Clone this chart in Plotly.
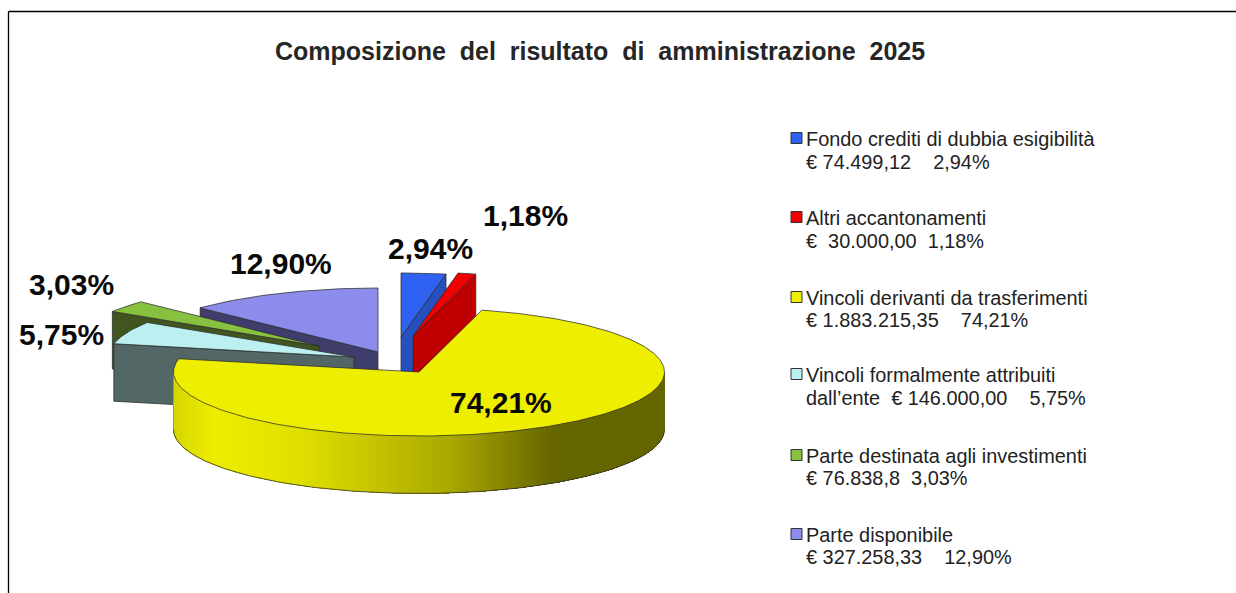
import numpy as np
import plotly.graph_objects as go

# ---- data ----
categories = ["Fondo crediti di dubbia esigibilità", "Altri accantonamenti",
              "Vincoli derivanti da trasferimenti", "Vincoli formalmente attribuiti",
              "Parte destinata agli investimenti", "Parte disponibile"]
values = [74499.12, 30000.00, 1883215.35, 146000.00, 76838.8, 327258.33]
percent_labels = ["2,94%", "1,18%", "74,21%", "5,75%", "3,03%", "12,90%"]
second_lines = ["€ 74.499,12\u00a0\u00a0\u00a0\u00a02,94%", "€\u00a0\u00a030.000,00\u00a0\u00a01,18%",
                "€ 1.883.215,35\u00a0\u00a0\u00a0\u00a074,21%", "dall’ente\u00a0\u00a0€ 146.000,00\u00a0\u00a0\u00a0\u00a05,75%",
                "€ 76.838,8\u00a0\u00a03,03%", "€ 327.258,33\u00a0\u00a0\u00a0\u00a012,90%"]
title_text = "Composizione del risultato di amministrazione 2025"

# ---- styling / layout ----
top_colors = ["#2f62f0", "#f00000", "#eeee00", "#bcefef", "#88c040", "#8c8ced"]
side_colors = ["#2450c0", "#c00000", "#eeee00", "#526666", "#415521", "#3f3d6b"]
# exploded apex of each slice on the canvas
apex_x = [401, 413, 419, 354, 319, 378]
apex_y = [337, 336, 372, 357, 346, 352]
RX, RY, DEPTH = 245.5, 64, 57.5
label_pos = [(430, 248), (525, 215), (501, 402), (61, 334), (71, 284), (281, 263)]
legend_x, legend_text_x = 796.5, 806
legend_y = [(139, 162), (218, 241), (298, 320), (375, 398), (456, 478), (535, 557)]
EDGE = "#2b2b2b"
FONT = "Liberation Sans"
wall_stops_x = [173, 215, 300, 450, 553, 664]
wall_stops_c = [(0xd6, 0xd6, 0), (0xee, 0xee, 0), (0xe0, 0xe0, 0), (0xaa, 0xa8, 0), (0x66, 0x66, 0), (0x66, 0x66, 0)]

fig = go.Figure()


def poly(xs, ys, fill, line=None, width=0.75):
    fig.add_trace(go.Scatter(x=list(xs), y=list(ys), mode="lines", fill="toself", fillcolor=fill,
                             line=dict(color=line or fill, width=width), hoverinfo="skip", showlegend=False))


def stroke(xs, ys, width=0.75, color=EDGE):
    fig.add_trace(go.Scatter(x=list(xs), y=list(ys), mode="lines", line=dict(color=color, width=width),
                             hoverinfo="skip", showlegend=False))


def wall_color(x):
    c = [np.interp(x, wall_stops_x, [s[k] for s in wall_stops_c]) for k in range(3)]
    return "rgb(%d,%d,%d)" % tuple(c)


shares = np.array(values) / sum(values)
ends = np.cumsum(shares) * 360
starts = ends - shares * 360


def rim(i, t):
    r = np.radians(t)
    return apex_x[i] + RX * np.sin(r), apex_y[i] - RY * np.cos(r)


def draw_slice(i):
    a, b = starts[i], ends[i]
    ax, ay = apex_x[i], apex_y[i]
    # radial cut faces that look at the viewer
    for t, visible in ((a, np.sin(np.radians(a)) < -1e-6), (b, np.sin(np.radians(b)) > 1e-6)):
        if visible:
            x, y = rim(i, t)
            poly([ax, x, x, ax, ax], [ay, y, y + DEPTH, ay + DEPTH, ay], side_colors[i], EDGE)
    # outer wall, front half only: drawn right to left, each band reaching to the far end
    w0, w1 = max(a, 90), min(b, 270)
    if w1 > w0:
        ts = np.arange(w0, w1 + 0.01, 1.0)
        pts = [rim(i, t) for t in ts]
        xs, ys = np.array([p[0] for p in pts]), np.array([p[1] for p in pts])
        for k in range(len(ts) - 1):
            col = wall_color((xs[k] + xs[k + 1]) / 2)
            # overlap the next band so no seams show through
            px = list(xs[k:]) + list(xs[k:][::-1]) + [xs[k]]
            py = list(ys[k:]) + list((ys[k:] + DEPTH)[::-1]) + [ys[k]]
            fig.add_trace(go.Scatter(x=px, y=py, mode="lines", fill="toself", fillcolor=col,
                                     line=dict(width=0), hoverinfo="skip", showlegend=False))
        stroke(xs, ys + DEPTH)
        stroke([xs[0], xs[0]], [ys[0], ys[0] + DEPTH], 0.5, "#555500")
        stroke([xs[-1], xs[-1]], [ys[-1], ys[-1] + DEPTH], 0.5, "#777700")
    # top surface
    ts = np.linspace(a, b, max(int(b - a), 2) + 1)
    pts = [rim(i, t) for t in ts]
    poly([ax] + [p[0] for p in pts] + [ax], [ay] + [p[1] for p in pts] + [ay], top_colors[i], EDGE)


for i in (5, 4, 3, 0, 1, 2):
    draw_slice(i)

# legend swatches
fig.add_trace(go.Scatter(x=[legend_x] * 6, y=[p[0] - 1 for p in legend_y], mode="markers",
                         marker=dict(symbol="square", size=11, color=top_colors,
                                     line=dict(color="#333333", width=1)),
                         hoverinfo="skip", showlegend=False))


def text(x, y, s, size, bold=False, anchor="center", color="#000000"):
    fig.add_annotation(x=x, y=y, text=("<b>%s</b>" % s) if bold else s, xref="x", yref="y", showarrow=False,
                       xanchor=anchor, yanchor="middle", font=dict(family=FONT, size=size, color=color),
                       borderpad=0, borderwidth=0)


text(599.5, 51, title_text.replace(" ", "\u00a0\u00a0"), 25, True, color="#262626")
for (x, y), s in zip(label_pos, percent_labels):
    text(x, y, s, 30, True, color="#0a0a0a")
for name, line2, (y1, y2) in zip(categories, second_lines, legend_y):
    text(legend_text_x, y1, name, 19.9, anchor="left", color="#222222")
    text(legend_text_x, y2, line2, 19.9, anchor="left", color="#222222")

fig.add_shape(type="line", x0=8.5, x1=8.5, y0=11.5, y1=593, xref="x", yref="y", line=dict(color="#000000", width=1.3))
fig.add_shape(type="line", x0=8.5, x1=1236, y0=11.5, y1=11.5, xref="x", yref="y", line=dict(color="#000000", width=1.3))

fig.update_layout(width=1236, height=593, margin=dict(l=0, r=0, t=0, b=0), paper_bgcolor="white",
                  plot_bgcolor="white", showlegend=False, hovermode=False,
                  xaxis=dict(range=[0, 1236], visible=False, fixedrange=True),
                  yaxis=dict(range=[593, 0], visible=False, fixedrange=True))
fig.write_html("out.html", config={"displayModeBar": False},
               post_script="document.body.style.margin='0';document.body.style.overflow='hidden';")
